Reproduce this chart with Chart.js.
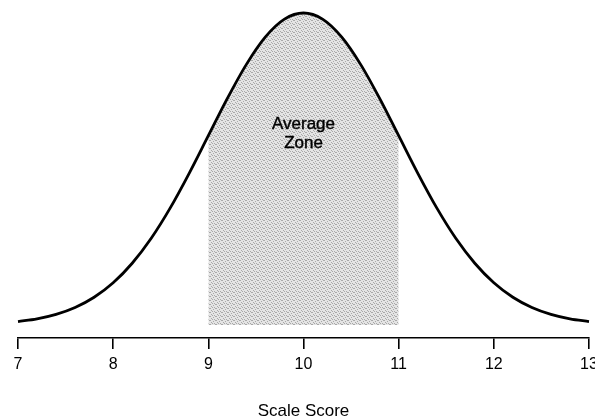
<!DOCTYPE html>
<html>
<head>
<meta charset="utf-8">
<script src="https://cdn.jsdelivr.net/npm/chart.js@4/dist/chart.umd.min.js"></script>
<style>
  html, body { margin: 0; padding: 0; background: #ffffff; }
  #wrap { width: 595px; height: 419px; position: relative; }
</style>
</head>
<body>
<div id="wrap"><canvas id="c" width="595" height="419"></canvas></div>
<script>
// Scale score positions along the curve
const scores = [7.0, 7.2, 7.4, 7.6, 7.8, 8.0, 8.2, 8.4, 8.6, 8.8,
                9.0, 9.2, 9.4, 9.6, 9.8, 10.0, 10.2, 10.4, 10.6, 10.8,
                11.0, 11.2, 11.4, 11.6, 11.8, 12.0, 12.2, 12.4, 12.6, 12.8, 13.0];
// Curve heights (density)
const density = [0.0044, 0.0079, 0.0136, 0.0224, 0.0355, 0.0540, 0.0790, 0.1109, 0.1497, 0.1942,
                 0.2420, 0.2897, 0.3332, 0.3683, 0.3910, 0.3989, 0.3910, 0.3683, 0.3332, 0.2897,
                 0.2420, 0.1942, 0.1497, 0.1109, 0.0790, 0.0540, 0.0355, 0.0224, 0.0136, 0.0079, 0.0044];
// Average zone bounds
const zoneStart = 9;
const zoneEnd = 11;
const zoneLabel = ["Average", "Zone"];
// Tick labels
const tickValues = [7, 8, 9, 10, 11, 12, 13];
const axisTitle = "Scale Score";

const curvePoints = scores.map((s, i) => ({ x: s, y: density[i] }));
const zonePoints = curvePoints.filter(p => p.x >= zoneStart - 1e-9 && p.x <= zoneEnd + 1e-9);

const FONT = "'Liberation Sans', Arial, Helvetica, sans-serif";

// stippled grey texture for the shaded zone
function makeStipple() {
  const pc = document.createElement('canvas');
  pc.width = 6; pc.height = 4;
  const p = pc.getContext('2d');
  p.fillStyle = '#e4e4e4';
  p.fillRect(0, 0, 6, 4);
  p.fillStyle = '#a8a8a8';
  [[0,0],[3,1],[1,2],[4,3],[5,0],[2,3]].forEach(([x, y]) => p.fillRect(x, y, 1, 1));
  return document.getElementById('c').getContext('2d').createPattern(pc, 'repeat');
}

const zoneText = {
  id: 'zoneText',
  afterDatasetsDraw(chart) {
    const ctx = chart.ctx;
    const xs = chart.scales.x;
    const cx = xs.getPixelForValue((zoneStart + zoneEnd) / 2);
    ctx.save();
    ctx.fillStyle = '#000';
    ctx.strokeStyle = '#000';
    ctx.lineWidth = 0.4;
    ctx.font = '17px ' + FONT;
    ctx.textAlign = 'center';
    ctx.textBaseline = 'middle';
    ctx.fillText(zoneLabel[0], cx, 124);
    ctx.strokeText(zoneLabel[0], cx, 124);
    ctx.fillText(zoneLabel[1], cx, 143);
    ctx.strokeText(zoneLabel[1], cx, 143);
    ctx.restore();
  }
};

new Chart(document.getElementById('c'), {
  type: 'line',
  data: {
    datasets: [
      {
        data: curvePoints,
        borderColor: '#000',
        borderWidth: 2.8,
        pointRadius: 0,
        fill: false,
        cubicInterpolationMode: 'monotone',
        clip: false,
        order: 0
      },
      {
        data: zonePoints,
        borderWidth: 0,
        borderColor: 'rgba(0,0,0,0)',
        backgroundColor: makeStipple(),
        pointRadius: 0,
        fill: 'origin',
        cubicInterpolationMode: 'monotone',
        order: 1
      }
    ]
  },
  options: {
    responsive: false,
    animation: false,
    events: [],
    layout: { padding: { left: 18, right: 6, top: 0, bottom: 0 } },
    plugins: { legend: { display: false }, tooltip: { enabled: false } },
    scales: {
      x: {
        type: 'linear',
        min: 7,
        max: 13,
        afterBuildTicks: (s) => { s.ticks = tickValues.map(v => ({ value: v })); },
        afterFit: (s) => { s.paddingLeft = 0; s.paddingRight = 0; s.height = 81; },
        border: { display: true, color: '#000', width: 1.6 },
        grid: { display: true, drawOnChartArea: false, drawTicks: true, tickLength: 11, color: '#000', lineWidth: 1.6 },
        ticks: { color: '#000', font: { family: FONT, size: 16 }, padding: 6, maxRotation: 0, autoSkip: false },
        title: { display: true, text: axisTitle, color: '#000', font: { family: FONT, size: 17 }, padding: { top: 20, bottom: -3 } }
      },
      y: {
        display: false,
        min: -0.0166,
        max: 0.4155
      }
    }
  },
  plugins: [zoneText]
});
</script>
</body>
</html>
